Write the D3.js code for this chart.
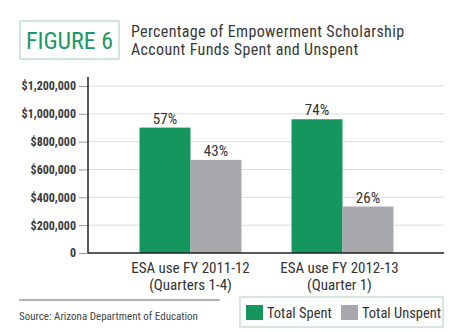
<!DOCTYPE html>
<html><head><meta charset="utf-8">
<script src="https://cdn.jsdelivr.net/npm/d3@7"></script>
<style>
body{margin:0;background:#fff;}
text{font-family:"Liberation Sans Narrow","Roboto Condensed","Liberation Sans",sans-serif;}
</style></head><body>
<svg id="c" width="450" height="332"></svg>
<script>
const categories = [["ESA use FY 2011-12","(Quarters 1-4)"],["ESA use FY 2012-13","(Quarter 1)"]];
const seriesNames = ["Total Spent","Total Unspent"];
const spent = [901000, 961000];
const unspent = [669000, 334000];
const spentPct = ["57%","74%"];
const unspentPct = ["43%","26%"];
const yTicks = [0,200000,400000,600000,800000,1000000,1200000];
const colors = ["#16965f","#a7a8ab"];

const svg = d3.select("#c");
const x0 = 88, x1 = 444, yTop = 86, yBot = 253;
const y = d3.scaleLinear().domain([0,1200000]).range([yBot,yTop]);
const xb = d3.scaleBand().domain([0,1]).range([139.5,393.5]).paddingInner(0.329).paddingOuter(0);
const xs = d3.scaleBand().domain([0,1]).range([0,xb.bandwidth()]);

// title
svg.append("rect").attr("x",20).attr("y",21).attr("width",99).attr("height",38)
  .attr("fill","none").attr("stroke","#cfe5d6").attr("stroke-width",2);
svg.append("text").attr("x",69.5).attr("y",48.5).attr("text-anchor","middle")
  .attr("font-size",24).attr("fill","#1a9868").text("FIGURE 6");
svg.append("text").attr("x",131).attr("y",37).attr("font-size",16).attr("letter-spacing",0.35).attr("fill","#3a3a3a")
  .text("Percentage of Empowerment Scholarship");
svg.append("text").attr("x",131).attr("y",55).attr("font-size",16).attr("letter-spacing",0.35).attr("fill","#3a3a3a")
  .text("Account Funds Spent and Unspent");

// grid
svg.append("g").selectAll("line").data(yTicks.slice(1)).join("line")
  .attr("x1",x0).attr("x2",x1).attr("y1",d=>y(d)).attr("y2",d=>y(d))
  .attr("stroke","#dcdcdc").attr("stroke-width",1);

// y axis
const ya = svg.append("g").attr("transform",`translate(${x0},0)`)
  .call(d3.axisLeft(y).tickValues(yTicks).tickSize(9).tickPadding(3)
    .tickFormat(d=> d===0 ? "0" : "$"+d3.format(",")(d)));
ya.select(".domain").remove();
ya.selectAll(".tick line").attr("stroke","#999");
ya.selectAll("text").attr("font-size",12).attr("font-weight","bold").attr("fill","#3a3a3a")
  .attr("font-family",'"Liberation Sans Narrow","Liberation Sans",sans-serif');

// bars
const data = [spent, unspent];
const pcts = [spentPct, unspentPct];
data.forEach((vals,s)=>{
  svg.append("g").selectAll("rect").data(vals).join("rect")
    .attr("x",(d,i)=>xb(i)+xs(s)).attr("width",xs.bandwidth())
    .attr("y",d=>y(d)).attr("height",d=>yBot-y(d)).attr("fill",colors[s]);
  svg.append("g").selectAll("text").data(vals).join("text")
    .attr("x",(d,i)=>xb(i)+xs(s)+xs.bandwidth()/2).attr("y",d=>y(d)-4)
    .attr("text-anchor","middle").attr("font-size",15).attr("fill","#333")
    .text((d,i)=>pcts[s][i]);
});

// axes lines
svg.append("line").attr("x1",x0).attr("x2",x0).attr("y1",77).attr("y2",yBot)
  .attr("stroke","#222").attr("stroke-width",1.5);
svg.append("line").attr("x1",x0).attr("x2",x1).attr("y1",yBot).attr("y2",yBot)
  .attr("stroke","#222").attr("stroke-width",1.5);

// category labels
categories.forEach((c,i)=>{
  const cx = xb(i)+xb.bandwidth()/2 - i*3;
  c.forEach((t,k)=>{
    svg.append("text").attr("x",cx).attr("y",273+k*16.5).attr("text-anchor","middle")
      .attr("font-size",15).attr("fill","#333").text(t);
  });
});

// source
svg.append("line").attr("x1",19).attr("x2",220).attr("y1",300).attr("y2",300)
  .attr("stroke","#666").attr("stroke-width",1);
svg.append("text").attr("x",19).attr("y",320).attr("font-size",11).attr("fill","#444")
  .text("Source: Arizona Department of Education");

// legend
svg.append("rect").attr("x",240).attr("y",297).attr("width",203).attr("height",30)
  .attr("fill","none").attr("stroke","#d4e8da").attr("stroke-width",2);
const lx = [246, 341];
seriesNames.forEach((n,i)=>{
  svg.append("rect").attr("x",lx[i]).attr("y",305).attr("width",17).attr("height",15).attr("fill",colors[i]);
  svg.append("text").attr("x",lx[i]+21).attr("y",318).attr("font-size",14.5).attr("fill","#333").text(n);
});
</script></body></html>
